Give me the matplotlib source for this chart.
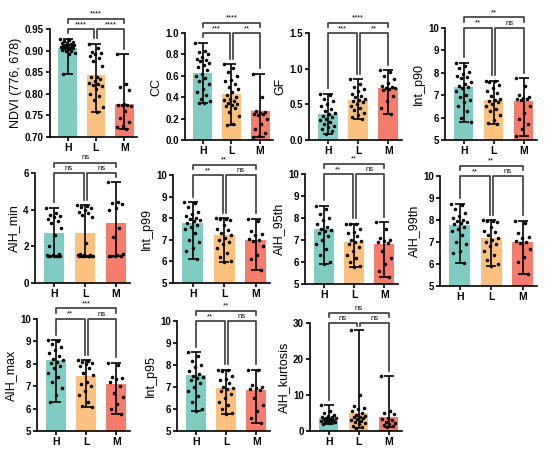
import numpy as np
import matplotlib
matplotlib.use("Agg")
import matplotlib.pyplot as plt

plt.rcParams['font.family'] = ['Liberation Sans', 'DejaVu Sans']

groups = ["H", "L", "M"]
colors = ["#80CCC3", "#FCC17F", "#F47C6C"]

# ---- data ----
ndvi_H = [0.928, 0.925, 0.922, 0.920, 0.918, 0.917, 0.915, 0.914, 0.913, 0.912, 0.911, 0.910,
          0.909, 0.908, 0.907, 0.906, 0.905, 0.903, 0.902, 0.900, 0.898, 0.895, 0.893, 0.845]
ndvi_L = [0.916, 0.905, 0.897, 0.895, 0.893, 0.887, 0.882, 0.875, 0.865, 0.840, 0.838, 0.834,
          0.830, 0.825, 0.822, 0.820, 0.818, 0.812, 0.800, 0.795, 0.785, 0.770, 0.757]
ndvi_M = [0.892, 0.822, 0.815, 0.808, 0.776, 0.775, 0.774, 0.773, 0.772, 0.760, 0.745, 0.735,
          0.725, 0.722, 0.718]
ndvi_mean = [0.907, 0.844, 0.777]

cc_H = [0.91, 0.83, 0.82, 0.80, 0.78, 0.76, 0.75, 0.74, 0.72, 0.70, 0.68, 0.65, 0.62, 0.60,
        0.58, 0.55, 0.52, 0.48, 0.45, 0.42, 0.38, 0.36, 0.35, 0.35]
cc_L = [0.71, 0.67, 0.64, 0.60, 0.56, 0.55, 0.52, 0.50, 0.48, 0.45, 0.42, 0.40, 0.38, 0.37,
        0.36, 0.35, 0.34, 0.33, 0.32, 0.30, 0.26, 0.22, 0.15, 0.14]
cc_M = [0.62, 0.40, 0.27, 0.26, 0.25, 0.24, 0.24, 0.23, 0.20, 0.15, 0.10, 0.07, 0.04, 0.03]
cc_mean = [0.63, 0.43, 0.27]

gf_H = [0.65, 0.63, 0.58, 0.55, 0.50, 0.47, 0.44, 0.40, 0.38, 0.36, 0.34, 0.32, 0.30, 0.28,
        0.25, 0.22, 0.20, 0.18, 0.15, 0.12, 0.09]
gf_L = [0.85, 0.78, 0.75, 0.72, 0.68, 0.65, 0.62, 0.60, 0.58, 0.56, 0.55, 0.53, 0.50, 0.48,
        0.45, 0.42, 0.38, 0.35, 0.32, 0.29]
gf_M = [0.98, 0.95, 0.90, 0.85, 0.80, 0.76, 0.74, 0.73, 0.73, 0.72, 0.70, 0.62, 0.55, 0.45, 0.37]
gf_mean = [0.37, 0.56, 0.73]

p90_H = [8.45, 8.3, 8.2, 8.05, 7.95, 7.85, 7.8, 7.75, 7.6, 7.5, 7.4, 7.35, 7.3, 7.2, 7.0, 6.9,
         6.8, 6.7, 6.5, 6.3, 6.0, 5.8]
p90_L = [7.65, 7.62, 7.6, 7.45, 7.3, 7.2, 7.1, 6.95, 6.85, 6.8, 6.75, 6.7, 6.6, 6.5, 6.4, 6.3,
         6.1, 5.9, 5.75, 5.7]
p90_M = [7.75, 7.4, 7.0, 6.9, 6.88, 6.85, 6.82, 6.8, 6.5, 6.2, 5.95, 5.7, 5.5, 5.2]
p90_mean = [7.37, 6.80, 6.73]

amin_H = [4.1, 3.8, 3.7, 3.65, 3.6, 3.5, 3.4, 3.3, 3.0, 2.6, 2.0, 1.6, 1.55, 1.55, 1.5, 1.5,
          1.5, 1.5, 1.5, 1.48]
amin_L = [4.25, 4.2, 4.15, 4.1, 4.0, 3.9, 3.8, 3.7, 3.6, 2.2, 1.6, 1.55, 1.55, 1.55, 1.5, 1.5,
          1.5, 1.5, 1.5, 1.5, 1.5, 1.5]
amin_M = [5.5, 4.4, 4.35, 4.3, 4.1, 4.0, 3.0, 2.5, 1.6, 1.55, 1.5, 1.5, 1.5, 1.5]
amin_mean = [2.72, 2.75, 3.30]

p99_H = [8.75, 8.7, 8.5, 8.3, 8.2, 8.1, 8.0, 7.95, 7.9, 7.85, 7.8, 7.7, 7.6, 7.5, 7.3, 7.0,
         6.9, 6.6, 6.5, 6.1]
p99_L = [8.0, 7.98, 7.95, 7.9, 7.7, 7.5, 7.45, 7.3, 7.2, 7.1, 7.0, 6.9, 6.8, 6.6, 6.4, 6.2,
         6.0, 5.95]
p99_M = [7.97, 7.85, 7.4, 7.25, 7.2, 7.05, 7.0, 6.95, 6.7, 6.3, 6.1, 5.6]
p99_mean = [7.77, 7.22, 7.00]

a95_H = [8.55, 8.4, 8.2, 8.0, 7.9, 7.75, 7.6, 7.5, 7.45, 7.4, 7.3, 7.2, 7.0, 6.8, 6.6, 6.3,
         6.0, 5.9]
a95_L = [7.75, 7.74, 7.72, 7.5, 7.35, 7.3, 7.2, 7.0, 6.95, 6.9, 6.8, 6.7, 6.5, 6.3, 6.2, 6.0,
         5.8, 5.78]
a95_M = [7.8, 7.5, 7.1, 7.0, 6.95, 6.9, 6.85, 6.5, 6.2, 5.9, 5.6, 5.3]
a95_mean = [7.52, 6.93, 6.82]

a99_H = [8.75, 8.7, 8.5, 8.3, 8.2, 8.1, 8.0, 7.95, 7.9, 7.85, 7.8, 7.7, 7.6, 7.5, 7.3, 7.0,
         6.9, 6.6, 6.5, 6.05]
a99_L = [7.98, 7.96, 7.95, 7.9, 7.7, 7.5, 7.45, 7.3, 7.2, 7.1, 7.0, 6.9, 6.8, 6.6, 6.4, 6.2,
         6.0, 5.92]
a99_M = [7.97, 7.85, 7.4, 7.25, 7.2, 7.05, 7.0, 6.95, 6.7, 6.3, 6.1, 5.55]
a99_mean = [7.76, 7.20, 7.02]

amax_H = [9.05, 9.0, 8.9, 8.75, 8.6, 8.5, 8.35, 8.2, 8.15, 8.1, 8.05, 7.9, 7.8, 7.6, 7.4, 7.2,
          6.9, 6.6, 6.3]
amax_L = [8.15, 8.12, 8.1, 8.05, 8.0, 7.9, 7.8, 7.6, 7.5, 7.2, 7.1, 7.0, 6.8, 6.6, 6.3, 6.1, 6.05]
amax_M = [8.05, 7.95, 7.4, 7.35, 7.3, 7.2, 7.0, 6.7, 6.5, 6.2, 6.0, 5.75]
amax_mean = [8.15, 7.47, 7.12]

p95_H = [8.58, 8.4, 8.2, 8.0, 7.9, 7.75, 7.6, 7.5, 7.45, 7.4, 7.3, 7.2, 7.0, 6.8, 6.6, 6.3,
         6.0, 5.92]
p95_L = [7.78, 7.76, 7.74, 7.5, 7.35, 7.3, 7.2, 7.0, 6.95, 6.9, 6.8, 6.7, 6.5, 6.3, 6.2, 6.0,
         5.8, 5.78]
p95_M = [7.78, 7.76, 7.1, 7.0, 6.95, 6.9, 6.85, 6.5, 6.2, 5.9, 5.6, 5.35]
p95_mean = [7.53, 6.97, 6.87]

kurt_H = [7.2, 5.5, 5.0, 4.5, 4.2, 4.0, 3.8, 3.6, 3.5, 3.3, 3.2, 3.0, 2.9, 2.8, 2.6, 2.5, 2.4,
          2.2, 2.0]
kurt_L = [28.0, 10.0, 7.0, 6.5, 6.0, 5.5, 5.0, 4.5, 4.2, 4.0, 3.8, 3.5, 3.2, 3.0, 2.8, 2.5, 2.2,
          2.0, 1.5, 1.2, 0.8]
kurt_M = [15.3, 5.5, 5.0, 4.8, 3.5, 3.2, 3.0, 2.5, 2.2, 2.0, 1.8, 1.5, 1.2]
kurt_mean = [3.5, 5.0, 3.8]

ylabels = ["NDVI (776, 678)", "CC", "GF", "Int_p90", "AIH_min", "Int_p99", "AIH_95th",
           "AIH_99th", "AIH_max", "Int_p95", "AIH_kurtosis"]
sig_HL = ["****", "***", "***", "**", "ns", "**", "**", "**", "**", "**", "ns"]
sig_LM = ["****", "**", "**", "ns", "ns", "ns", "ns", "ns", "ns", "ns", "ns"]
sig_HM = ["****", "****", "****", "**", "ns", "**", "**", "**", "***", "**", "ns"]

panels = [
    (ndvi_H, ndvi_L, ndvi_M, ndvi_mean),
    (cc_H, cc_L, cc_M, cc_mean),
    (gf_H, gf_L, gf_M, gf_mean),
    (p90_H, p90_L, p90_M, p90_mean),
    (amin_H, amin_L, amin_M, amin_mean),
    (p99_H, p99_L, p99_M, p99_mean),
    (a95_H, a95_L, a95_M, a95_mean),
    (a99_H, a99_L, a99_M, a99_mean),
    (amax_H, amax_L, amax_M, amax_mean),
    (p95_H, p95_L, p95_M, p95_mean),
    (kurt_H, kurt_L, kurt_M, kurt_mean),
]

# ---- layout / style ----
W, H = 550, 453
boxes = [  # left, right, top, bottom in pixels
    (50, 137, 29, 137), (185, 273, 33, 140), (309, 402, 33, 140), (445, 537, 28, 140),
    (35, 130, 173, 283), (173, 270, 175, 283), (305, 398, 174, 284), (440, 537, 176, 286),
    (37, 130, 319, 431), (177, 270, 321, 431), (310, 402, 323, 431),
]
ylims = [(0.70, 0.95), (0, 1.0), (0, 1.5), (5, 10), (0, 6), (5, 10), (5, 10), (5, 10),
         (5, 10), (5, 10), (0, 30)]
yticks = [np.arange(0.70, 0.951, 0.05), np.arange(0, 1.01, 0.2), [0, 0.5, 1.0, 1.5],
          range(5, 11), [0, 2, 4, 6], range(5, 11), range(5, 11), range(5, 11),
          range(5, 11), range(5, 11), [0, 10, 20, 30]]
yfmts = ["{:.2f}", "{:.1f}", "{:.1f}", "{:d}", "{:d}", "{:d}", "{:d}", "{:d}", "{:d}", "{:d}", "{:d}"]

fig = plt.figure(figsize=(W / 100, H / 100), dpi=100)

golden = 0.6180339887

for k, (hv, lv, mv, means) in enumerate(panels):
    l, r, t, b = boxes[k]
    ax = fig.add_axes([l / W, 1 - b / H, (r - l) / W, (b - t) / H])
    data = [hv, lv, mv]
    x = np.arange(3)
    ax.bar(x, means, width=0.66, color=colors, zorder=1)
    for i, vals in enumerate(data):
        lo, hi = min(vals), max(vals)
        ax.errorbar(x[i], means[i], yerr=[[means[i] - lo], [hi - means[i]]], fmt="none",
                    ecolor="black", elinewidth=1.2, capsize=3.4, capthick=1.2, zorder=3)
        n = len(vals)
        offs = np.array([((j * golden) % 1.0 - 0.5) * 0.52 for j in range(n)])
        ax.scatter(x[i] + offs, vals, s=6.5, color="black", zorder=4, linewidths=0)
    y0, y1 = ylims[k]
    rng = y1 - y0
    ax.set_xlim(-0.62, 2.45)
    ax.set_ylim(y0, y1)
    ax.set_yticks(list(yticks[k]))
    ax.set_yticklabels([yfmts[k].format(int(round(v)) if yfmts[k] == "{:d}" else v) for v in yticks[k]],
                       fontsize=7, fontweight="bold")
    ax.set_xticks(x)
    ax.set_xticklabels(groups, fontsize=7.5, fontweight="bold")
    ax.set_ylabel(ylabels[k], fontsize=9, labelpad=2)
    for s in ["top", "right"]:
        ax.spines[s].set_visible(False)
    for s in ["left", "bottom"]:
        ax.spines[s].set_linewidth(1.2)
    ax.tick_params(width=1.2, length=3, pad=1.5)

    # significance brackets
    maxs = [max(v) for v in data]
    gap = 0.05 * rng
    yb = y1
    ytop = y1 + 0.095 * rng
    kw = dict(color="#3a3a3a", lw=1.2, clip_on=False, zorder=5)
    # H-L
    xl, xr = 0.0, 0.95
    ax.plot([xl, xl, xr, xr], [min(maxs[0] + gap, yb - 0.03 * rng), yb, yb,
                               min(maxs[1] + gap, yb - 0.03 * rng)], **kw)
    ax.text((xl + xr) / 2, yb + 0.01 * rng, sig_HL[k], ha="center", va="bottom",
            fontsize=5.5, clip_on=False)
    # L-M
    xl, xr = 1.05, 2.0
    ax.plot([xl, xl, xr, xr], [min(maxs[1] + gap, yb - 0.03 * rng), yb, yb,
                               min(maxs[2] + gap, yb - 0.03 * rng)], **kw)
    ax.text((xl + xr) / 2, yb + 0.01 * rng, sig_LM[k], ha="center", va="bottom",
            fontsize=5.5, clip_on=False)
    # H-M
    ax.plot([0, 0, 2, 2], [ytop - 0.04 * rng, ytop, ytop, ytop - 0.04 * rng], **kw)
    ax.text(1, ytop + 0.01 * rng, sig_HM[k], ha="center", va="bottom",
            fontsize=5.5, clip_on=False)

fig.savefig("out.png", dpi=100)
